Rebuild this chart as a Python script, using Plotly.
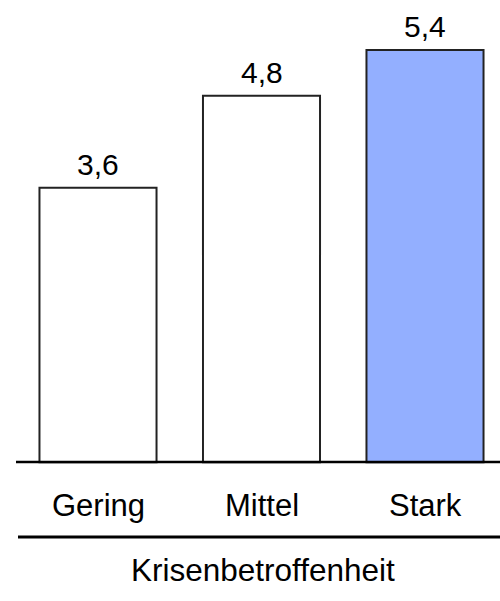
import plotly.graph_objects as go

categories = ["Gering", "Mittel", "Stark"]
values = [3.6, 4.8, 5.4]
value_labels = ["3,6", "4,8", "5,4"]
bar_colors = ["#FFFFFF", "#FFFFFF", "#93AFFF"]
axis_title = "Krisenbetroffenheit"

W, H = 500, 601
FONT = "Liberation Sans, Arial, sans-serif"

fig = go.Figure()
fig.add_trace(go.Bar(
    x=list(range(len(categories))), y=values,
    marker=dict(color=bar_colors, line=dict(color="#222222", width=2)),
    width=0.716, hoverinfo="skip",
))

for i, (v, t) in enumerate(zip(values, value_labels)):
    fig.add_annotation(x=i, y=v, xref="x", yref="y", text=t, showarrow=False,
                       yanchor="bottom", yshift=5,
                       font=dict(family=FONT, size=30, color="#000000"))

for i, c in enumerate(categories):
    fig.add_annotation(x=i, y=1 - 505 / H, xref="x", yref="paper", text=c,
                       showarrow=False, yanchor="middle",
                       font=dict(family=FONT, size=31, color="#000000"))

fig.add_annotation(x=263 / W, y=1 - 569.5 / H, xref="paper", yref="paper",
                   text=axis_title, showarrow=False, xanchor="center", yanchor="middle",
                   font=dict(family=FONT, size=31.5, color="#000000"))

# baseline
fig.add_shape(type="line", xref="paper", yref="y", x0=16 / W, x1=1, y0=0, y1=0,
              line=dict(color="#000000", width=5))
# separator line
fig.add_shape(type="line", xref="paper", yref="paper", x0=18 / W, x1=1,
              y0=1 - 537 / H, y1=1 - 537 / H, line=dict(color="#000000", width=3))

px_per_cat = 163.5
px_per_unit = 76.55
base_y = 463.3
left = 16
fig.update_layout(
    width=W, height=H, margin=dict(l=0, r=0, t=0, b=0),
    paper_bgcolor="white", plot_bgcolor="white", showlegend=False,
    xaxis=dict(domain=[left / W, 1], range=[-(98 - left) / px_per_cat, (W - 98) / px_per_cat],
               showticklabels=False, showgrid=False, zeroline=False, showline=False, ticks=""),
    yaxis=dict(domain=[1 - base_y / H, 1], range=[0, base_y / px_per_unit],
               showticklabels=False, showgrid=False, zeroline=False, showline=False, ticks=""),
)

fig.write_html("out.html")
